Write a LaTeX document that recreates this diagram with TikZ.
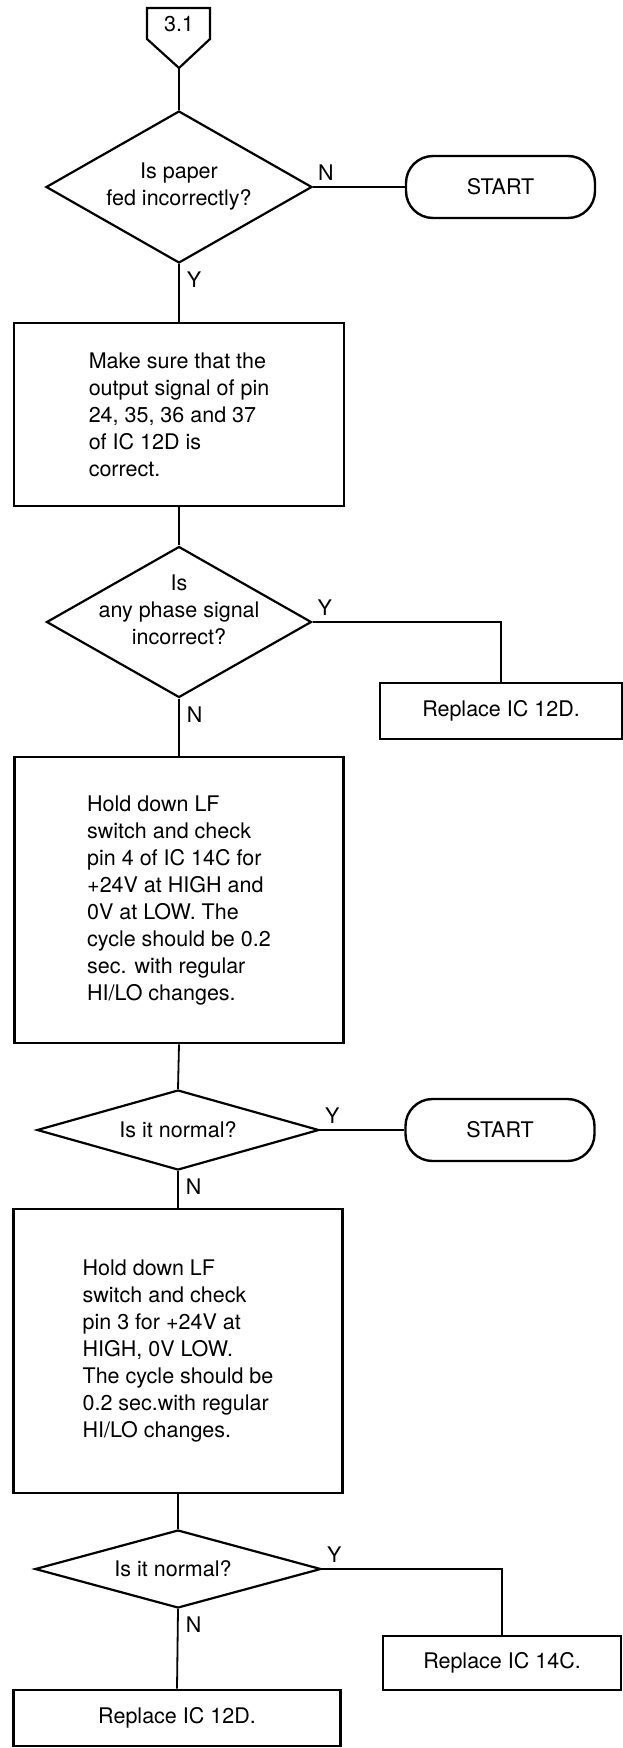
\documentclass[tikz,border=0pt]{standalone}
\usepackage{fontspec}
\setmainfont{TeX Gyre Heros}
\usetikzlibrary{shapes.geometric}
\newcommand{\chartfont}{\fontsize{21.5}{27}\selectfont}

\begin{document}
\begin{tikzpicture}[
  x=1pt, y=-1pt,
  stepbox/.style={rectangle, draw, line width=2.6pt, align=left, inner sep=0pt},
  endbox/.style={rectangle, draw, line width=2.6pt, align=center, inner sep=0pt,
                 minimum height=56pt},
  decision/.style={diamond, draw, line width=2.2pt, inner sep=0pt},
  terminal/.style={rectangle, draw, line width=2.4pt, rounded corners=27pt,
                   minimum width=189pt, minimum height=62pt},
  qtext/.style={align=center, inner sep=0pt},
  ynright/.style={anchor=south west, inner xsep=4pt, inner ysep=6pt},
  ynbelow/.style={anchor=north west, inner sep=7pt},
  line width=1.8pt, font=\chartfont
]
  \useasboundingbox (0,0) rectangle (622,1748);

  \node (c31) at (179,24) {3.1};
  \coordinate (c31tip) at (179,68);
  \draw[line width=2.2pt] (147,8) -- (210,8) -- (210,39) -- (c31tip) -- (147,39) -- cycle;

  \node[decision, minimum width=266pt, minimum height=152pt,
        label={[qtext]center:Is paper\\fed incorrectly?}] (q1) at (179,187) {};
  \node[terminal] (st1) at (500.5,187) {START};

  \node[stepbox, minimum width=330pt, minimum height=183pt] (b1) at (179,414.5)
    {Make sure that the\\output signal of pin\\24, 35, 36 and 37\\of IC 12D is\\correct.};

  \node[decision, minimum width=265pt, minimum height=151pt,
        label={[qtext, yshift=12pt]center:Is\\any phase signal\\incorrect?}] (q2) at (179,622) {};
  \node[endbox, minimum width=242pt] (r1) at (501,711) {Replace IC 12D.};

  \node[stepbox, minimum width=329pt, minimum height=286pt] (b2) at (179,900)
    {Hold down LF\\switch and check\\pin 4 of IC 14C for\\+24V at HIGH and\\0V at LOW. The\\cycle should be 0.2\\sec. with regular\\HI/LO changes.};

  \node[decision, minimum width=282pt, minimum height=80pt,
        label={[qtext]center:Is it normal?}] (q3) at (178,1130) {};
  \node[terminal] (st2) at (500,1130) {START};

  \node[stepbox, minimum width=329pt, minimum height=284pt] (b3) at (178,1351)
    {Hold down LF\\switch and check\\pin 3 for +24V at\\HIGH, 0V LOW.\\The cycle should be\\0.2 sec.with regular\\HI/LO changes.};

  \node[decision, minimum width=286pt, minimum height=78pt,
        label={[qtext, xshift=-5pt]center:Is it normal?}] (q4) at (178,1569) {};
  \node[endbox, minimum width=238pt, minimum height=54pt] (r2) at (502,1663) {Replace IC 14C.};
  \node[endbox, minimum width=327pt] (r3) at (177,1718) {Replace IC 12D.};

  \draw (c31tip) -- (q1.north);
  \draw (q1.east) -- node[ynright, pos=0] {N} (st1.west);
  \draw (q1.south) -- node[ynbelow, pos=0] {Y} (b1.north);
  \draw (b1.south) -- (q2.north);
  \draw (q2.east) -| node[ynright, pos=0] {Y} (r1.north);
  \draw (q2.south) -- node[ynbelow, pos=0] {N} (b2.north);
  \draw (b2.south) -- (q3.north);
  \draw (q3.east) -- node[ynright, pos=0] {Y} (st2.west);
  \draw (q3.south) -- node[ynbelow, pos=0] {N} (b3.north);
  \draw (b3.south) -- (q4.north);
  \draw (q4.east) -| node[ynright, pos=0] {Y} (r2.north);
  \draw (q4.south) -- node[ynbelow, pos=0] {N} (r3.north);
\end{tikzpicture}
\end{document}
